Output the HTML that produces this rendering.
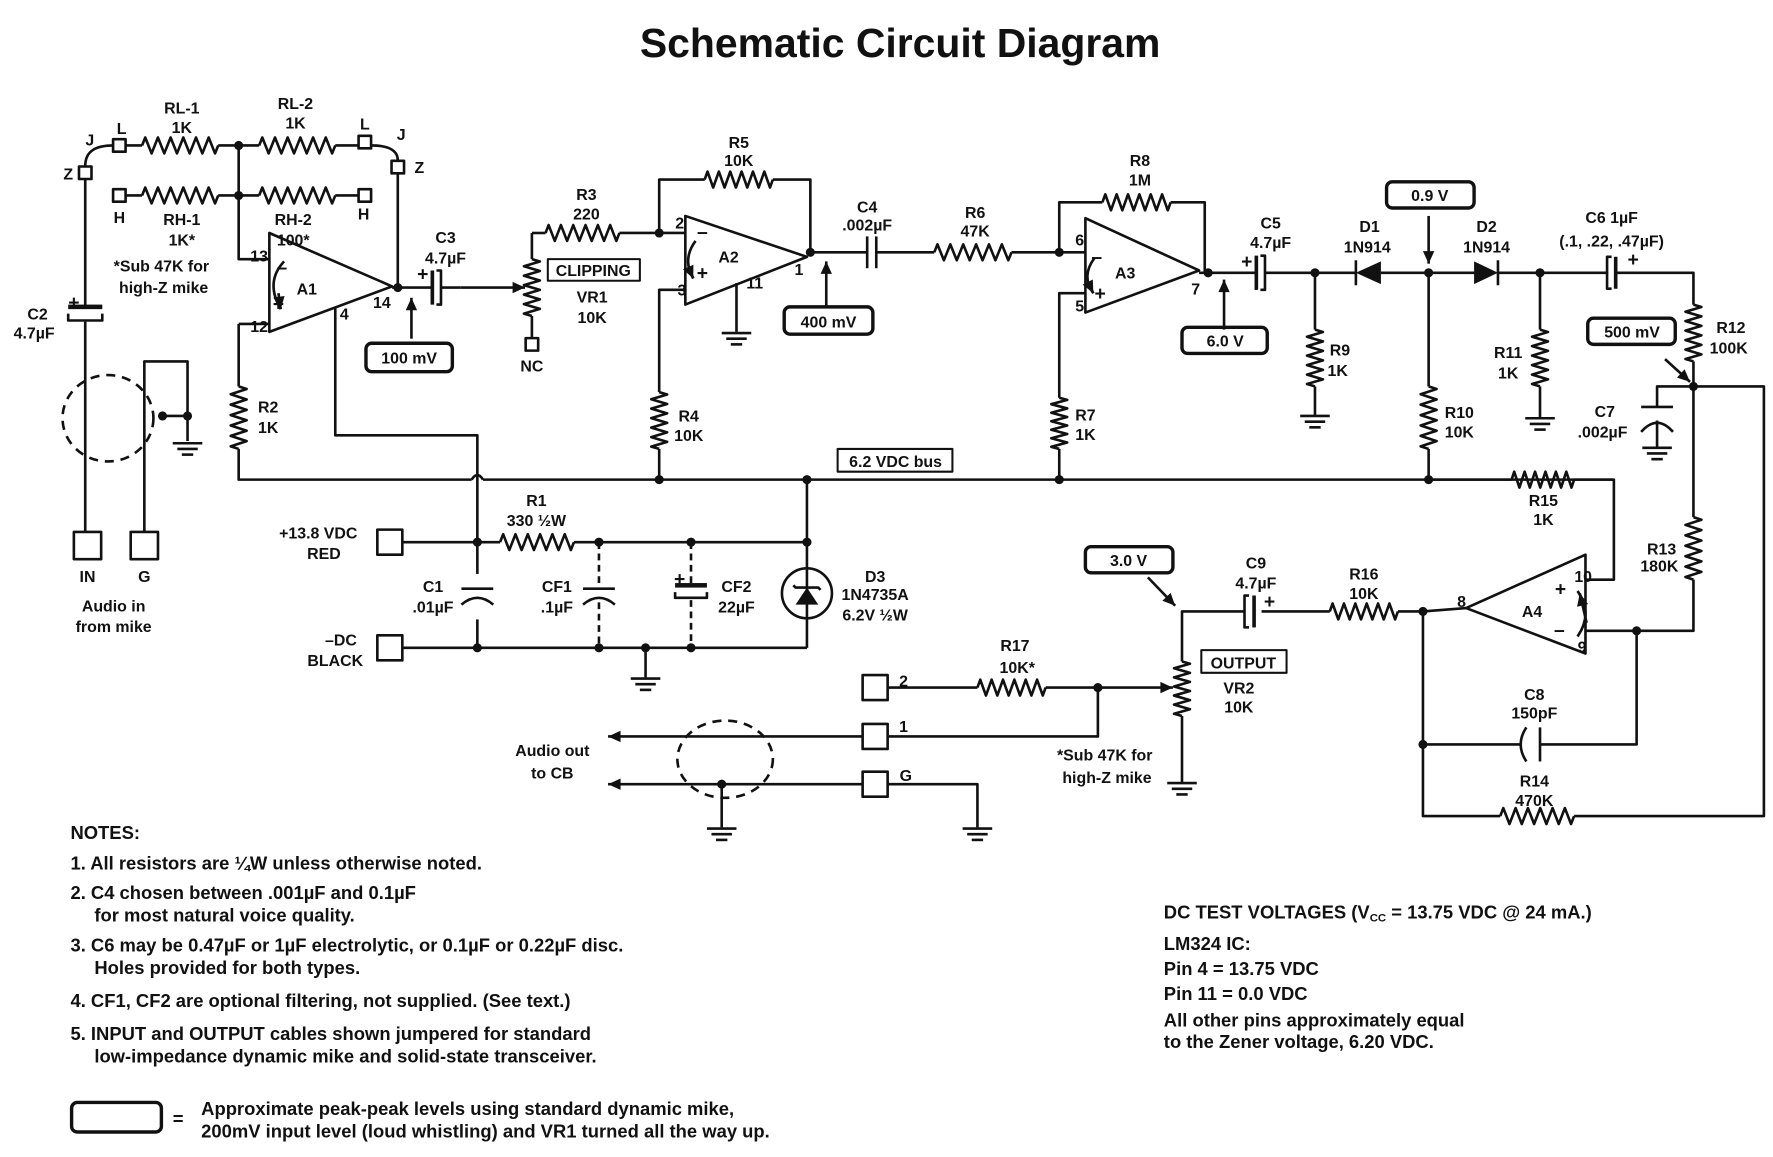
<!DOCTYPE html>
<html><head><meta charset="utf-8"><style>
html,body{margin:0;padding:0;background:#fff;}
svg{display:block;}
text{font-family:"Liberation Sans",Arial,sans-serif;font-weight:bold;fill:#111;}
.t{font-size:14px;text-anchor:middle;}
.n{font-size:16.2px;}
</style></head><body>
<svg id="s" width="1773" height="1157" viewBox="0 0 1560 1018" preserveAspectRatio="none" xmlns="http://www.w3.org/2000/svg">
<g id="g" fill="none" stroke="#111" stroke-width="2.3" stroke-linejoin="round"></g>
<text x="792" y="50" style="font-size:36px;text-anchor:middle">Schematic Circuit Diagram</text>
<g class="tl">
<text class="t" x="160" y="100">RL-1</text><text class="t" x="160" y="117">1K</text>
<text class="t" x="260" y="96">RL-2</text><text class="t" x="260" y="113">1K</text>
<text class="t" x="107" y="118">L</text><text class="t" x="321" y="114">L</text>
<text class="t" x="79" y="128">J</text><text class="t" x="353" y="123">J</text>
<text class="t" x="60" y="158">Z</text><text class="t" x="369" y="152">Z</text>
<text class="t" x="105" y="196">H</text><text class="t" x="320" y="193">H</text>
<text class="t" x="160" y="198">RH-1</text><text class="t" x="160" y="216">1K*</text>
<text class="t" x="258" y="198">RH-2</text><text class="t" x="258" y="216">100*</text>
<text class="t" x="142" y="239">*Sub 47K for</text><text class="t" x="144" y="258">high-Z mike</text>
<text class="t" x="33" y="281">C2</text><text class="t" x="30" y="298">4.7µF</text>
<text class="t" x="77" y="512">IN</text><text class="t" x="127" y="512">G</text>
<text class="t" x="100" y="538">Audio in</text><text class="t" x="100" y="556">from mike</text>
<text class="t" x="228" y="230">13</text><text class="t" x="228" y="292">12</text>
<text class="t" x="303" y="281">4</text><text class="t" x="336" y="271">14</text>
<text class="t" x="270" y="259">A1</text>
<text class="t" x="236" y="363">R2</text><text class="t" x="236" y="381">1K</text>
<text class="t" x="392" y="214">C3</text><text class="t" x="392" y="232">4.7µF</text>
<text class="t" x="360" y="320">100 mV</text>
<text class="t" x="516" y="176">R3</text><text class="t" x="516" y="193">220</text>
<text class="t" x="522" y="243">CLIPPING</text>
<text class="t" x="521" y="266">VR1</text><text class="t" x="521" y="284">10K</text>
<text class="t" x="468" y="327">NC</text>
<text class="t" x="650" y="130">R5</text><text class="t" x="650" y="146">10K</text>
<text class="t" x="598" y="201">2</text><text class="t" x="600" y="260">3</text><text class="t" x="664" y="254">11</text><text class="t" x="703" y="242">1</text>
<text class="t" x="641" y="231">A2</text>
<text class="t" x="606" y="371">R4</text><text class="t" x="606" y="388">10K</text>
<text class="t" x="763" y="187">C4</text><text class="t" x="763" y="203">.002µF</text>
<text class="t" x="729" y="288">400 mV</text>
<text class="t" x="858" y="192">R6</text><text class="t" x="858" y="208">47K</text>
<text class="t" x="1003" y="146">R8</text><text class="t" x="1003" y="163">1M</text>
<text class="t" x="950" y="216">6</text><text class="t" x="950" y="274">5</text><text class="t" x="1052" y="259">7</text>
<text class="t" x="990" y="245">A3</text>
<text class="t" x="955" y="370">R7</text><text class="t" x="955" y="387">1K</text>
<text class="t" x="1078" y="305">6.0 V</text>
<text class="t" x="1118" y="201">C5</text><text class="t" x="1118" y="218">4.7µF</text>
<text class="t" x="1205" y="204">D1</text><text class="t" x="1203" y="222">1N914</text>
<text class="t" x="1308" y="204">D2</text><text class="t" x="1308" y="222">1N914</text>
<text class="t" x="1258" y="177">0.9 V</text>
<text class="t" x="1418" y="196">C6 1µF</text><text class="t" x="1418" y="217">(.1, .22, .47µF)</text>
<text class="t" x="1179" y="313">R9</text><text class="t" x="1177" y="331">1K</text>
<text class="t" x="1284" y="368">R10</text><text class="t" x="1284" y="385">10K</text>
<text class="t" x="1327" y="315">R11</text><text class="t" x="1327" y="333">1K</text>
<text class="t" x="1523" y="293">R12</text><text class="t" x="1521" y="311">100K</text>
<text class="t" x="1436" y="297">500 mV</text>
<text class="t" x="1412" y="367">C7</text><text class="t" x="1410" y="385">.002µF</text>
<text class="t" x="788" y="411">6.2 VDC bus</text>
<text class="t" x="1358" y="445">R15</text><text class="t" x="1358" y="462">1K</text>
<text class="t" x="1462" y="488">R13</text><text class="t" x="1460" y="503">180K</text>
<text class="t" x="472" y="445">R1</text><text class="t" x="472" y="463">330 ½W</text>
<text class="t" x="280" y="474">+13.8 VDC</text><text class="t" x="285" y="492">RED</text>
<text class="t" x="381" y="521">C1</text><text class="t" x="381" y="539">.01µF</text>
<text class="t" x="490" y="521">CF1</text><text class="t" x="490" y="539">.1µF</text>
<text class="t" x="648" y="521">CF2</text><text class="t" x="648" y="539">22µF</text>
<text class="t" x="770" y="512">D3</text><text class="t" x="770" y="528">1N4735A</text><text class="t" x="770" y="546">6.2V ½W</text>
<text class="t" x="300" y="568">–DC</text><text class="t" x="295" y="586">BLACK</text>
<text class="t" x="993" y="498">3.0 V</text>
<text class="t" x="1105" y="500">C9</text><text class="t" x="1105" y="518">4.7µF</text>
<text class="t" x="1200" y="510">R16</text><text class="t" x="1200" y="527">10K</text>
<text class="t" x="1286" y="534">8</text><text class="t" x="1393" y="512">10</text><text class="t" x="1392" y="574">9</text>
<text class="t" x="1348" y="543">A4</text>
<text class="t" x="1094" y="588">OUTPUT</text>
<text class="t" x="1090" y="610">VR2</text><text class="t" x="1090" y="627">10K</text>
<text class="t" x="893" y="573">R17</text><text class="t" x="895" y="592">10K*</text>
<text class="t" x="795" y="604">2</text><text class="t" x="795" y="644">1</text><text class="t" x="797" y="687">G</text>
<text class="t" x="1350" y="616">C8</text><text class="t" x="1350" y="632">150pF</text>
<text class="t" x="1350" y="692">R14</text><text class="t" x="1350" y="709">470K</text>
<text class="t" x="486" y="665">Audio out</text><text class="t" x="486" y="685">to CB</text>
<text class="t" x="972" y="669">*Sub 47K for</text><text class="t" x="974" y="689">high-Z mike</text>
</g>
<text class="n" x="62" y="738">NOTES:</text>
<text class="n" x="62" y="765">1.  All resistors are ¼W unless otherwise noted.</text>
<text class="n" x="62" y="791">2.  C4 chosen between .001µF and 0.1µF</text>
<text class="n" x="83" y="811">for most natural voice quality.</text>
<text class="n" x="62" y="837">3.  C6 may be 0.47µF or 1µF electrolytic, or 0.1µF or 0.22µF disc.</text>
<text class="n" x="83" y="857">Holes provided for both types.</text>
<text class="n" x="62" y="886">4.  CF1, CF2 are optional filtering, not supplied.  (See text.)</text>
<text class="n" x="62" y="915">5.  INPUT and OUTPUT cables shown jumpered for standard</text>
<text class="n" x="83" y="935">low-impedance dynamic mike and solid-state transceiver.</text>
<text class="n" x="152" y="990">=</text>
<text class="n" x="177" y="981">Approximate peak-peak levels using standard dynamic mike,</text>
<text class="n" x="177" y="1001">200mV  input level (loud whistling) and VR1 turned all the way up.</text>
<text class="n" x="1024" y="808">DC TEST VOLTAGES   (V<tspan style="font-size:10px" dy="3">CC</tspan><tspan dy="-3"> = 13.75 VDC @ 24 mA.)</tspan></text>
<text class="n" x="1024" y="836">LM324 IC:</text>
<text class="n" x="1024" y="858">Pin 4 = 13.75 VDC</text>
<text class="n" x="1024" y="880">Pin 11 = 0.0 VDC</text>
<text class="n" x="1024" y="903">All other pins approximately equal</text>
<text class="n" x="1024" y="922">to the Zener voltage, 6.20 VDC.</text>
</svg>
<script>
var G=document.getElementById('g'),NS='http://www.w3.org/2000/svg';
function el(t,a){var e=document.createElementNS(NS,t);for(var k in a)e.setAttribute(k,a[k]);G.appendChild(e);return e;}
function P(d,extra){var a={d:d};if(extra)for(var k in extra)a[k]=extra[k];return el('path',a);}
function L(pts){var d='M'+pts[0][0]+','+pts[0][1];for(var i=1;i<pts.length;i++)d+=' L'+pts[i][0]+','+pts[i][1];P(d);}
function rh(x1,x2,y){var n=6,w=(x2-x1)/n,d='M'+x1+','+y;for(var i=0;i<n;i++){d+=' L'+(x1+w*i+w/4)+','+(y-7)+' L'+(x1+w*i+3*w/4)+','+(y+7);}d+=' L'+x2+','+y;P(d);}
function rv(x,y1,y2){var n=6,w=(y2-y1)/n,d='M'+x+','+y1;for(var i=0;i<n;i++){d+=' L'+(x+7)+','+(y1+w*i+w/4)+' L'+(x-7)+','+(y1+w*i+3*w/4);}d+=' L'+x+','+y2;P(d);}
function dot(x,y){el('circle',{cx:x,cy:y,r:4,fill:'#111',stroke:'none'});}
function sq(x,y,s){s=s||11;el('rect',{x:x-s/2,y:y-s/2,width:s,height:s,fill:'#fff'});}
function gnd(x,y){L([[x-13,y],[x+13,y]]);L([[x-9,y+5],[x+9,y+5]]);L([[x-5,y+10],[x+5,y+10]]);}
function box(x1,y1,x2,y2){el('rect',{x:x1,y:y1,width:x2-x1,height:y2-y1,rx:5,'stroke-width':3});}
function sbox(x1,y1,x2,y2){el('rect',{x:x1,y:y1,width:x2-x1,height:y2-y1,'stroke-width':1.8});}
function arr(x1,y1,x2,y2){L([[x1,y1],[x2,y2]]);var a=Math.atan2(y2-y1,x2-x1),l=11,w=5;var p=[[x2,y2],[x2-l*Math.cos(a)+w*Math.sin(a),y2-l*Math.sin(a)-w*Math.cos(a)],[x2-l*Math.cos(a)-w*Math.sin(a),y2-l*Math.sin(a)+w*Math.cos(a)]];el('polygon',{points:p.join(' '),fill:'#111',stroke:'none'});}
function capPH(x,y){L([[x,y-15],[x,y+15]]);P('M'+(x+4)+','+(y-15)+' L'+(x+8)+','+(y-15)+' L'+(x+8)+','+(y+15)+' L'+(x+4)+','+(y+15));el('rect',{x:x-1,y:y-15,width:3,height:30,fill:'#111',stroke:'none'});}
function capH(x,y){L([[x,y-14],[x,y+14]]);L([[x+8,y-14],[x+8,y+14]]);}
function capV(x,y){L([[x-14,y],[x+14,y]]);P('M'+(x-14)+','+(y+14)+' Q'+x+','+(y+2)+' '+(x+14)+','+(y+14));}
function opamp(xl,yt,yb,xt,yt2){P('M'+xl+','+yt+' L'+xt+','+yt2+' L'+xl+','+yb+' Z',{fill:'#fff'});}
P('M75,146 C75,133 84,128 100,128');L([[111,128],[125,128]]);rh(125,192,128);L([[192,128],[228,128]]);rh(228,295,128);L([[295,128],[315,128]]);
P('M327,128 C343,128 350,133 350,141');sq(105,128);sq(321,125);sq(75,152);sq(350,147);
L([[111,172],[125,172]]);rh(125,192,172);L([[192,172],[228,172]]);rh(228,295,172);L([[295,172],[315,172]]);sq(105,172);sq(321,172);
dot(210,128);dot(210,172);L([[210,128],[210,228],[240,228]]);
L([[350,153],[350,253]]);
L([[210,285],[240,285]]);L([[210,285],[210,340]]);rv(210,340,395);L([[210,395],[210,422],[415,422]]);
P('M425,422 L1420,422');P('M415,422 Q420,414 425,422');
L([[295,268],[295,383],[420,383],[420,570]]);
opamp(237,205,292,345,252);P('M250,230 Q233,248 247,272');arr(245,258,247,272);
L([[345,253],[380,253]]);dot(350,253);capPH(380,253);L([[388,253],[405,253]]);
arr(405,253,462,253);arr(362,298,362,262);box(322,302,398,327);
L([[468,205],[468,228]]);rv(468,228,278);L([[468,278],[468,298]]);sq(468,303);
L([[468,205],[480,205]]);rh(480,545,205);L([[545,205],[603,205]]);dot(580,205);sbox(482,228,563,247);
L([[580,205],[580,158],[620,158]]);rh(620,680,158);L([[680,158],[713,158],[713,222]]);
opamp(603,190,268,710,226);P('M612,212 Q600,228 610,245');arr(606,236,610,245);
L([[603,255],[580,255],[580,345]]);rv(580,345,395);L([[580,395],[580,422]]);
L([[648,249],[648,292]]);gnd(648,293);
L([[710,222],[763,222]]);dot(713,222);capH(763,222);L([[771,222],[822,222]]);
arr(727,270,727,230);box(690,270,768,294);
rh(822,890,222);L([[890,222],[955,222]]);dot(932,222);
L([[932,222],[932,178],[970,178]]);rh(970,1030,178);L([[1030,178],[1060,178],[1060,240]]);
opamp(955,192,275,1055,238);P('M963,227 Q951,243 962,258');arr(958,250,962,258);
L([[955,258],[932,258],[932,350]]);rv(932,350,395);L([[932,395],[932,422]]);
L([[1055,240],[1105,240]]);dot(1063,240);capPH(1105,240);L([[1113,240],[1193,240]]);
arr(1077,290,1077,246);box(1040,288,1115,311);
dot(1157,240);L([[1157,240],[1157,290]]);rv(1157,290,340);L([[1157,340],[1157,365]]);gnd(1157,366);
el('polygon',{points:'1193,240 1215,230 1215,250',fill:'#111',stroke:'none'});L([[1193,229],[1193,251]]);
L([[1215,240],[1298,240]]);dot(1257,240);
arr(1257,190,1257,232);box(1220,160,1297,183);
L([[1257,240],[1257,340]]);rv(1257,340,395);L([[1257,395],[1257,422]]);
el('polygon',{points:'1318,240 1297,230 1297,250',fill:'#111',stroke:'none'});L([[1318,229],[1318,251]]);
L([[1318,240],[1415,240]]);dot(1355,240);L([[1355,240],[1355,290]]);rv(1355,290,340);L([[1355,340],[1355,367]]);gnd(1355,368);
L([[1422,226],[1422,254]]);P('M1418,226 L1414,226 L1414,254 L1418,254');el('rect',{x:1420,y:226,width:3,height:28,fill:'#111',stroke:'none'});
L([[1422,240],[1490,240],[1490,268]]);rv(1490,268,318);L([[1490,318],[1490,455]]);rv(1490,455,510);L([[1490,510],[1490,555],[1440,555]]);
dot(1490,340);L([[1490,340],[1552,340],[1552,718],[1385,718]]);rh(1320,1385,718);L([[1320,718],[1252,718],[1252,538]]);
box(1397,280,1474,303);arr(1465,316,1487,336);
L([[1490,340],[1458,340],[1458,358]]);L([[1444,358],[1472,358]]);P('M1444,380 Q1458,364 1472,380');L([[1458,370],[1458,393]]);gnd(1458,394);
sbox(737,395,838,415);
dot(580,422);dot(710,422);dot(932,422);dot(1257,422);
L([[1257,422],[1330,422]]);rh(1330,1385,422);L([[1385,422],[1420,422],[1420,510],[1395,510]]);
opamp(1395,488,575,1290,535);P('M1388,520 Q1402,540 1388,560');arr(1396,548,1390,522);
L([[1395,555],[1440,555]]);dot(1440,555);L([[1440,555],[1440,655],[1355,655]]);
P('M1343,640 Q1333,655 1343,670');L([[1355,640],[1355,670]]);L([[1338,655],[1252,655]]);dot(1252,655);
L([[1290,535],[1252,538],[1230,538]]);dot(1252,538);rh(1170,1230,538);L([[1170,538],[1110,538]]);
L([[1103,524],[1103,552]]);P('M1099,524 L1095,524 L1095,552 L1099,552');el('rect',{x:1102,y:524,width:3,height:28,fill:'#111',stroke:'none'});
L([[1095,538],[1040,538],[1040,582]]);rv(1040,582,630);L([[1040,630],[1040,688]]);gnd(1040,689);
sbox(1057,572,1132,592);box(955,481,1032,504);arr(1010,508,1034,533);
sq(770,605,22);L([[781,605],[860,605]]);rh(860,920,605);L([[920,605],[966,605]]);arr(966,605,1032,605);dot(966,605);
L([[966,605],[966,648],[782,648]]);sq(770,648,22);arr(759,648,535,648);
sq(770,690,22);arr(759,690,535,690);L([[781,690],[860,690],[860,728]]);gnd(860,729);
el('ellipse',{cx:638,cy:668,rx:42,ry:34,'stroke-dasharray':'8,6'});L([[635,690],[635,728]]);dot(635,690);gnd(635,729);
sq(343,477,22);L([[354,477],[440,477]]);dot(420,477);rh(440,505,477);L([[505,477],[710,477]]);dot(527,477);dot(608,477);dot(710,477);
L([[710,422],[710,570]]);el('circle',{cx:710,cy:522,r:22,fill:'#fff'});L([[710,500],[710,545]]);
el('polygon',{points:'710,517 700,532 720,532',fill:'#111',stroke:'none'});P('M698,515 L700,517 L720,517 L722,519');
sq(343,570,22);L([[354,570],[710,570]]);dot(420,570);dot(527,570);dot(568,570);dot(608,570);
L([[568,570],[568,596]]);gnd(568,597);
el('rect',{x:412,y:505,width:16,height:40,fill:'#fff',stroke:'none'});
capV(420,518);
P('M527,477 L527,518',{'stroke-dasharray':'6,4'});P('M527,530 L527,570',{'stroke-dasharray':'6,4'});L([[513,518],[541,518]]);P('M513,532 Q527,520 541,532');
P('M608,477 L608,515',{'stroke-dasharray':'6,4'});P('M608,528 L608,570',{'stroke-dasharray':'6,4'});
el('rect',{x:594,y:513,width:28,height:4,fill:'#111',stroke:'none'});P('M594,521 L594,526 L622,526 L622,521');
L([[75,158],[75,270]]);L([[75,283],[75,470]]);el('rect',{x:60,y:268,width:30,height:4,fill:'#111',stroke:'none'});P('M60,276 L60,282 L90,282 L90,276');
el('ellipse',{cx:95,cy:368,rx:40,ry:38,'stroke-dasharray':'8,6'});
L([[127,470],[127,318],[165,318],[165,388]]);L([[143,366],[165,366]]);dot(143,366);dot(165,366);gnd(165,390);
sq(77,480,24);sq(127,480,24);
box(63,970,142,996);
</script>
<script>
var S=document.getElementById('s');
[[248,241,'–'],[245,273,'+'],[618,210,'–'],[618,246,'+'],[965,232,'–'],[968,264,'+'],[1373,524,'+'],[1372,560,'–'],
[372,247,'+'],[1097,236,'+'],[1437,234,'+'],[1117,535,'+'],[65,272,'+'],[598,515,'+']].forEach(function(a){
var t=document.createElementNS('http://www.w3.org/2000/svg','text');t.setAttribute('x',a[0]);t.setAttribute('y',a[1]);t.setAttribute('class','t');t.setAttribute('style','font-size:17px');t.textContent=a[2];S.appendChild(t);});
</script>
</body></html>
